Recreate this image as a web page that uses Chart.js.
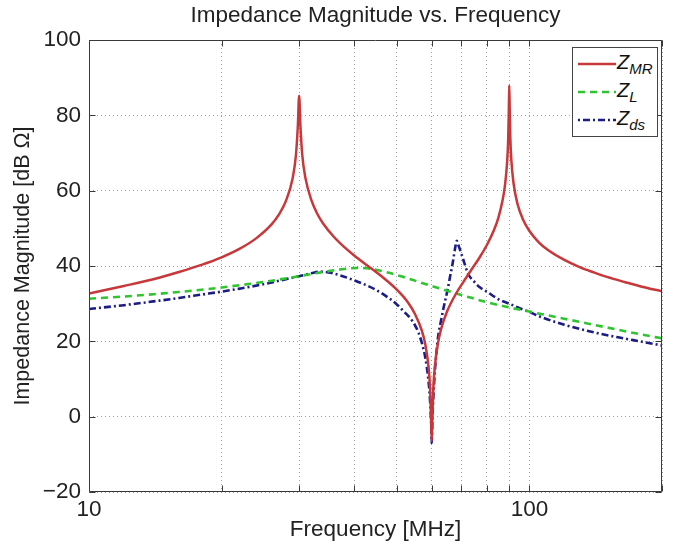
<!DOCTYPE html>
<html lang="en">
<head>
<meta charset="UTF-8">
<title>Impedance Magnitude vs. Frequency</title>
<script src="https://cdn.jsdelivr.net/npm/chart.js"></script>
<style>
    html, body { margin: 0; padding: 0; background: #fff; }
    .wrap { position: relative; width: 680px; height: 546px; }
    #legend {
        position: absolute; left: 572px; top: 47px; width: 86px; height: 90px;
        border: 1px solid #444; background: #fff; box-sizing: border-box;
        font-family: "Liberation Sans", Arial, sans-serif; padding-top: 2px;
    }
    .row { display: flex; align-items: center; height: 28px; padding-left: 5px; }
    .row svg { width: 38px; height: 10px; flex: none; }
    .row span { font-style: italic; font-size: 20px; color: #111; line-height: 1; margin-left: 1px; }
    .row sub { font-size: 15px; vertical-align: -5px; }
</style>
</head>
<body>
<div class="wrap">
    <canvas id="chart"></canvas>
    <div id="legend">
        <div class="row"><svg><line x1="0" y1="5" x2="38" y2="5" stroke="#c8383a" stroke-width="2.5"/></svg><span>Z<sub>MR</sub></span></div>
        <div class="row"><svg><line x1="0" y1="5" x2="38" y2="5" stroke="#2fc52f" stroke-width="2.6" stroke-dasharray="7 5"/></svg><span>Z<sub>L</sub></span></div>
        <div class="row"><svg><line x1="0" y1="5" x2="38" y2="5" stroke="#1c1c86" stroke-width="2.6" stroke-dasharray="2 3 7 3"/></svg><span>Z<sub>ds</sub></span></div>
    </div>
</div>
<script>
// Z_MR (red, solid)
const freqMR = [10, 12, 14, 16, 18, 20, 22, 24, 26, 27, 28, 29, 29.5, 29.8, 30, 30.2, 30.5, 31, 32, 33, 34, 36, 38, 40, 43, 46, 50, 53, 55, 57, 58, 59, 59.5, 59.8, 60, 60.2, 60.5, 61, 62, 63, 65, 68, 71, 74, 77, 80, 83, 85, 87, 88, 89, 89.5, 89.8, 90, 90.2, 90.5, 91, 92, 94, 97, 100, 105, 110, 120, 130, 140, 150, 165, 180, 200];
const zMR = [32.7, 34.7, 36.5, 38.4, 40.3, 42.3, 44.6, 47.4, 51.1, 53.7, 57.3, 63.3, 69.4, 77.3, 85.2, 77.3, 69.4, 63.4, 57.4, 53.8, 51.3, 47.7, 45.0, 42.8, 40.0, 37.4, 33.7, 30.3, 27.2, 22.8, 19.3, 13.3, 7.3, -0.6, -6.5, -0.6, 7.4, 13.4, 19.5, 23.2, 27.9, 32.5, 36.0, 39.2, 42.2, 45.5, 49.4, 52.8, 57.7, 61.4, 67.6, 73.7, 81.7, 88.0, 81.8, 73.9, 68.0, 62.1, 56.4, 52.0, 49.3, 46.3, 44.3, 41.6, 39.7, 38.3, 37.1, 35.7, 34.5, 33.3];

// Z_L (green, dashed)
const freqL = [10, 12, 14, 16, 18, 20, 23, 26, 30, 34, 38, 41, 44, 48, 52, 56, 60, 66, 72, 80, 90, 100, 110, 120, 140, 160, 180, 200];
const zL = [31.3, 31.9, 32.5, 33.1, 33.7, 34.3, 35.2, 36.1, 37.3, 38.4, 39.2, 39.5, 39.2, 38.2, 37.0, 35.8, 34.7, 33.2, 31.9, 30.4, 29.0, 27.9, 26.9, 26.0, 24.4, 23.0, 21.8, 20.8];

// Z_ds (blue, dash-dot)
const freqDS = [10, 12, 14, 16, 18, 20, 22, 25, 28, 30, 32, 33.5, 35, 37, 40, 43, 46, 50, 52, 54.3, 56, 57, 58, 59, 59.5, 59.8, 60, 60.2, 60.5, 61, 61.5, 62, 63, 64, 65, 66, 67, 68, 68.4, 69, 70, 71.3, 72.5, 75, 77, 80, 85.6, 90, 95, 100, 105, 120, 140, 160, 180, 200];
const zDS = [28.6, 29.6, 30.6, 31.5, 32.4, 33.2, 34.0, 35.2, 36.5, 37.3, 38.1, 38.5, 38.3, 37.6, 36.2, 34.7, 32.9, 29.8, 27.8, 25.3, 22.3, 19.5, 15.8, 9.5, 4.0, -1.0, -7.0, -1.0, 5.0, 12.0, 17.0, 21.0, 25.5, 29.5, 33.0, 37.0, 41.0, 45.5, 46.7, 45.5, 43.4, 40.5, 38.0, 35.8, 34.4, 33.2, 31.0, 30.0, 28.8, 27.8, 26.7, 24.4, 22.4, 21.0, 19.9, 18.9];

const xTicks = [10, 20, 30, 40, 50, 60, 70, 80, 90, 100, 200];
const xTickLabels = { 10: '10', 100: '100' };
const yTicks = [-20, 0, 20, 40, 60, 80, 100];

const FONT = '"Liberation Sans", Arial, sans-serif';

function toPoints(xs, ys) {
    return xs.map((f, i) => ({ x: f, y: ys[i] }));
}

// box around the plot with inward tick marks
const framePlugin = {
    id: 'frame',
    afterDraw(chart) {
        const { ctx, chartArea: a, scales } = chart;
        const L = Math.round(a.left) + 0.5, R = Math.round(a.right) - 0.5;
        const T = Math.round(a.top) + 0.5, B = Math.round(a.bottom) - 0.5;
        ctx.save();
        ctx.strokeStyle = '#3a3a3a';
        ctx.lineWidth = 1;
        ctx.beginPath();
        ctx.rect(L, T, R - L, B - T);
        xTicks.forEach(v => {
            const px = Math.round(scales.x.getPixelForValue(v)) + 0.5;
            ctx.moveTo(px, B); ctx.lineTo(px, B - 6);
            ctx.moveTo(px, T); ctx.lineTo(px, T + 6);
        });
        yTicks.forEach(v => {
            const py = Math.round(scales.y.getPixelForValue(v)) + 0.5;
            ctx.moveTo(L, py); ctx.lineTo(L + 6, py);
            ctx.moveTo(R, py); ctx.lineTo(R - 6, py);
        });
        ctx.stroke();
        ctx.restore();
    }
};

new Chart(document.getElementById('chart'), {
    type: 'line',
    data: {
        datasets: [
            {
                label: 'Z_MR',
                data: toPoints(freqMR, zMR),
                borderColor: '#c8383a',
                borderWidth: 2.5,
                pointRadius: 0,
                cubicInterpolationMode: 'monotone'
            },
            {
                label: 'Z_L',
                data: toPoints(freqL, zL),
                borderColor: '#2fc52f',
                borderWidth: 2.6,
                borderDash: [7, 5],
                pointRadius: 0,
                cubicInterpolationMode: 'monotone'
            },
            {
                label: 'Z_ds',
                data: toPoints(freqDS, zDS),
                borderColor: '#1c1c86',
                borderWidth: 2.6,
                borderDash: [7, 3, 2, 3],
                pointRadius: 0,
                cubicInterpolationMode: 'monotone'
            }
        ]
    },
    options: {
        responsive: true,
        maintainAspectRatio: false,
        animation: false,
        layout: { padding: { left: 0, right: 18, top: 0, bottom: 0 } },
        plugins: {
            legend: { display: false },
            tooltip: { enabled: false }
        },
        scales: {
            x: {
                type: 'logarithmic',
                min: 10,
                max: 200,
                afterBuildTicks: s => { s.ticks = xTicks.map(v => ({ value: v })); },
                afterFit: s => { s.height = 54; },
                ticks: {
                    autoSkip: false,
                    maxRotation: 0,
                    padding: 4,
                    color: '#222',
                    font: { family: FONT, size: 22.5 },
                    callback: v => xTickLabels[v] || ''
                },
                grid: { color: '#a0a0a0', lineWidth: 1, drawTicks: false },
                border: { display: false, dash: [1, 3] },
                title: {
                    display: true,
                    text: 'Frequency [MHz]',
                    color: '#222',
                    font: { family: FONT, size: 22.5 },
                    padding: { top: 0, bottom: 3 }
                }
            },
            // top axis only carries the chart title, centred over the plot
            xTop: {
                type: 'logarithmic',
                position: 'top',
                min: 10,
                max: 200,
                afterFit: s => { s.height = 40; },
                ticks: { display: false },
                grid: { display: false },
                border: { display: false },
                title: {
                    display: true,
                    text: 'Impedance Magnitude vs. Frequency',
                    color: '#222',
                    font: { family: FONT, size: 22.5 },
                    padding: { top: 2, bottom: 0 }
                }
            },
            y: {
                min: -20,
                max: 100,
                afterBuildTicks: s => { s.ticks = yTicks.map(v => ({ value: v })); },
                afterFit: s => { s.width = 89; },
                ticks: {
                    padding: 8,
                    color: '#222',
                    font: { family: FONT, size: 22.5 },
                    callback: v => (v < 0 ? '\u2212' + Math.abs(v) : String(v))
                },
                grid: { color: '#a0a0a0', lineWidth: 1, drawTicks: false },
                border: { display: false, dash: [1, 3] },
                title: {
                    display: true,
                    text: 'Impedance Magnitude [dB \u03A9]',
                    color: '#222',
                    font: { family: FONT, size: 21.5 },
                    padding: { top: 10, bottom: 0 }
                }
            }
        }
    },
    plugins: [framePlugin]
});
</script>
</body>
</html>
